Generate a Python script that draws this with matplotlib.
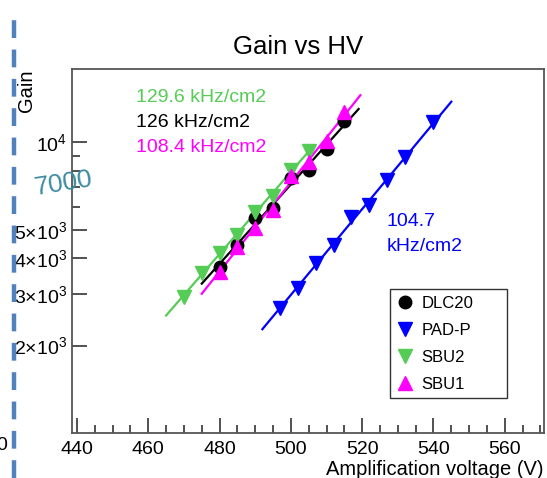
import numpy as np
import matplotlib
matplotlib.use("Agg")
import matplotlib.pyplot as plt
from matplotlib.lines import Line2D
from matplotlib.ticker import FixedLocator, FixedFormatter

plt.rcParams["font.family"] = ["Liberation Sans", "DejaVu Sans"]
plt.rcParams["mathtext.fontset"] = "custom"
plt.rcParams["mathtext.rm"] = "Liberation Sans"
plt.rcParams["mathtext.it"] = "Liberation Sans"

# gain vs amplification voltage
dlc20_v = [480, 485, 490, 495, 500, 505, 510, 515]
dlc20_gain = [3735, 4450, 5510, 5970, 7570, 8070, 9460, 11810]

padp_v = [497, 502, 507, 512, 517, 522, 527, 532, 540]
padp_gain = [2700, 3160, 3860, 4420, 5560, 6110, 7450, 8880, 11720]

sbu2_v = [470, 475, 480, 485, 490, 495, 500, 505]
sbu2_gain = [2945, 3565, 4180, 4820, 5780, 6520, 8070, 9310]

sbu1_v = [480, 485, 490, 495, 500, 505, 510, 515]
sbu1_gain = [3590, 4375, 5090, 5875, 7690, 8590, 10080, 12690]

# voltage range each exponential fit is drawn over
dlc20_fit = [475, 519]
padp_fit = [492, 545]
sbu2_fit = [465, 506]
sbu1_fit = [475, 519.5]

rates = ["129.6 kHz/cm2", "126 kHz/cm2", "108.4 kHz/cm2"]
padp_rate = ["104.7", "kHz/cm2"]

green = "#55CC55"

fig = plt.figure(figsize=(5.47, 4.78), dpi=100)
ax = fig.add_axes([72 / 547, 45 / 478, 472 / 547, 364 / 478])


def draw(v, g, rng, color, marker, label, ms):
    k, b = np.polyfit(v, np.log10(g), 1)
    xs = np.array(rng)
    ax.plot(xs, 10 ** (k * xs + b), color=color, lw=1.6, zorder=2)
    ax.plot(v, g, ls="none", marker=marker, color=color, ms=ms,
            label=label, zorder=3)


draw(dlc20_v, dlc20_gain, dlc20_fit, "black", "o", "DLC20", 9)
draw(padp_v, padp_gain, padp_fit, "#0000FF", "v", "PAD-P", 10)
draw(sbu2_v, sbu2_gain, sbu2_fit, green, "v", "SBU2", 10)
draw(sbu1_v, sbu1_gain, sbu1_fit, "#FF00FF", "^", "SBU1", 10)

ax.set_yscale("log")
ax.set_xlim(438.6, 571)
ax.set_ylim(1000, 17900)

ax.xaxis.set_major_locator(FixedLocator(np.arange(440, 561, 20)))
ax.xaxis.set_minor_locator(FixedLocator(np.arange(440, 571, 5)))
ax.yaxis.set_major_locator(FixedLocator([2000, 3000, 4000, 5000, 10000]))
ax.yaxis.set_major_formatter(FixedFormatter([
    r"$2{\times}10^{3}$", r"$3{\times}10^{3}$", r"$4{\times}10^{3}$",
    r"$5{\times}10^{3}$", r"$10^{4}$"]))
ax.yaxis.set_minor_locator(FixedLocator([6000, 7000, 8000, 9000]))
ax.yaxis.set_minor_formatter(FixedFormatter([]))

ax.tick_params(which="both", direction="in", labelsize=14, color="#222")
ax.tick_params(which="major", length=11, width=1.1, pad=6)
ax.tick_params(which="minor", length=6, width=1.1)
ax.tick_params(axis="y", which="major", pad=3.5)
for s in ax.spines.values():
    s.set_color("#555")
    s.set_linewidth(1.3)

ax.set_xlabel("Amplification voltage (V)", fontsize=14.5, loc="right",
              labelpad=1)
ax.text(-0.097, 1.0, "Gain", rotation=90, ha="center", va="top",
        fontsize=14.5, transform=ax.transAxes)
fig.text(298 / 547, 1 - 47 / 478, "Gain vs HV", ha="center", va="center",
         fontsize=18.5)

for txt, y, c in zip(rates, [0.923, 0.854, 0.7857], [green, "black", "#FF00FF"]):
    ax.text(0.1356, y, txt, color=c, fontsize=14, va="center",
            transform=ax.transAxes)
ax.text(0.667, 0.5797, padp_rate[0], color="#0000FF", fontsize=14,
        va="center", transform=ax.transAxes)
ax.text(0.667, 0.5137, padp_rate[1], color="#0000FF", fontsize=14,
        va="center", transform=ax.transAxes)

leg = ax.legend(loc="upper left",
                bbox_to_anchor=(318 / 472, 144 / 364, 117 / 472, 0.0),
                mode="expand", borderaxespad=0, fontsize=12, fancybox=False,
                edgecolor="#333", framealpha=1, handlelength=1.0,
                handletextpad=0.5, labelspacing=0.72, borderpad=0.4)
leg.get_frame().set_linewidth(1.0)

# hand-drawn marks over the picture
fig.add_artist(Line2D([14 / 547, 14 / 547], [0, 1 - 13 / 478],
                      transform=fig.transFigure, color="#4F81BD", lw=3.2,
                      ls=(0, (4.0, 2.6)), solid_capstyle="butt"))
fig.text(63 / 547, 1 - 184 / 478, "7000", color="#3C8CA0", fontsize=19,
         fontweight="light", rotation=9, ha="center", va="center")
fig.text(2 / 547, 1 - 446 / 478, "0", fontsize=14, ha="center", va="center")

fig.savefig("out.png", dpi=100)
